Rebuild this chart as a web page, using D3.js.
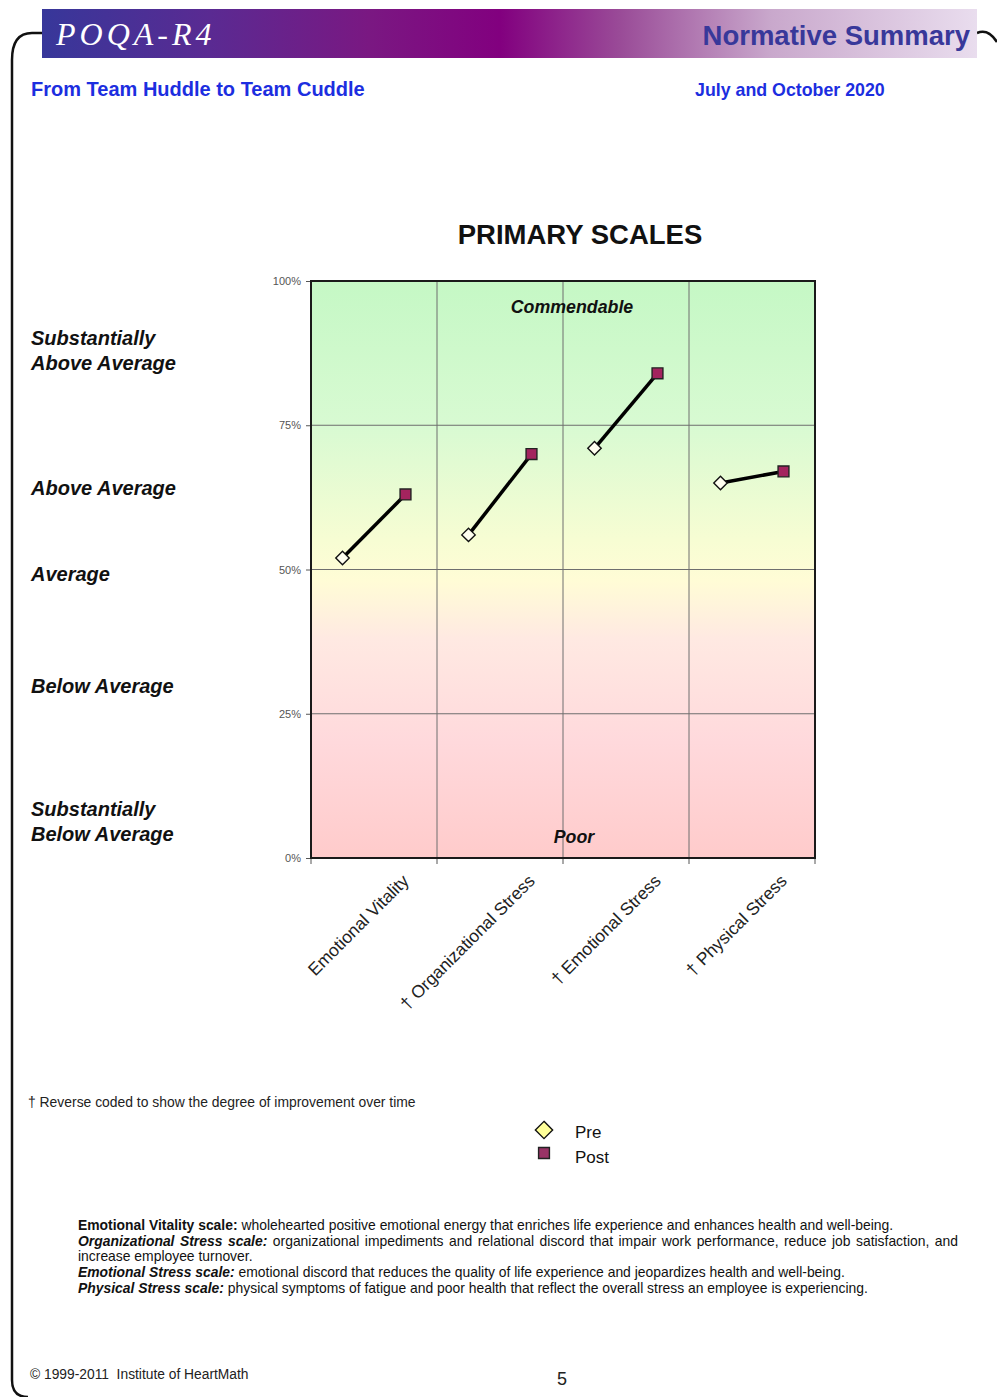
<!DOCTYPE html>
<html><head><meta charset="utf-8">
<script src="https://cdn.jsdelivr.net/npm/d3@7"></script>
<style>
html,body{margin:0;padding:0;background:#fff;}
svg{display:block;font-family:"Liberation Sans",Arial,sans-serif;}
</style></head>
<body>
<svg id="c" width="997" height="1397"></svg>
<script>
const categories = ["Emotional Vitality", "† Organizational Stress", "† Emotional Stress", "† Physical Stress"];
const preValues = [52, 56, 71, 65];
const postValues = [63, 70, 84, 67];
const yTicks = [0, 25, 50, 75, 100];
const levelLabels = [
  {lines: ["Substantially", "Above Average"], y: 345},
  {lines: ["Above Average"], y: 495},
  {lines: ["Average"], y: 581},
  {lines: ["Below Average"], y: 693},
  {lines: ["Substantially", "Below Average"], y: 816}
];
const seriesNames = ["Pre", "Post"];

const svg = d3.select("#c");
const defs = svg.append("defs");

// header gradient
const hg = defs.append("linearGradient").attr("id", "hg").attr("x1", "0").attr("x2", "1").attr("y1", "0").attr("y2", "0");
[[0, "#37379a"], [0.18, "#5a2a92"], [0.35, "#7a1882"], [0.49, "#82007f"], [0.62, "#9a4c98"], [0.78, "#c9a8cc"], [1, "#e9ddee"]]
  .forEach(([o, c]) => hg.append("stop").attr("offset", o).attr("stop-color", c));

// plot background gradient
const pg = defs.append("linearGradient").attr("id", "pg").attr("x1", "0").attr("x2", "0").attr("y1", "0").attr("y2", "1");
[[0, "#c5f8c5"], [0.25, "#d8fad2"], [0.45, "#f7fdd3"], [0.52, "#fffcd6"], [0.62, "#ffe9e2"], [0.8, "#ffd9dc"], [1, "#ffcbcb"]]
  .forEach(([o, c]) => pg.append("stop").attr("offset", o).attr("stop-color", c));

// page frame
svg.append("path")
  .attr("d", "M42,33 L32,33 Q12,33 12,60 L12,1380 Q12,1397 28,1397")
  .attr("fill", "none").attr("stroke", "#111").attr("stroke-width", 2.5);
svg.append("path")
  .attr("d", "M977,33 Q988,28 997,42")
  .attr("fill", "none").attr("stroke", "#111").attr("stroke-width", 2.5);

// header bar
svg.append("rect").attr("x", 42).attr("y", 9).attr("width", 935).attr("height", 49).attr("fill", "url(#hg)");
svg.append("text").attr("x", 56).attr("y", 45).attr("fill", "#fff")
  .style("font-family", "'Liberation Serif','DejaVu Serif',serif").style("font-style", "italic")
  .style("font-size", "32px").style("letter-spacing", "4px").text("POQA-R4");
svg.append("text").attr("x", 970).attr("y", 45).attr("text-anchor", "end").attr("fill", "#38389a")
  .style("font-weight", "bold").style("font-size", "27.5px").text("Normative Summary");

svg.append("text").attr("x", 31).attr("y", 96).attr("fill", "#1c2ee0")
  .style("font-weight", "bold").style("font-size", "20px").text("From Team Huddle to Team Cuddle");
svg.append("text").attr("x", 695).attr("y", 96).attr("fill", "#1c2ee0")
  .style("font-weight", "bold").style("font-size", "17.8px").text("July and October 2020");

// title
svg.append("text").attr("x", 580).attr("y", 244).attr("text-anchor", "middle").attr("fill", "#111")
  .style("font-weight", "bold").style("font-size", "27.5px").text("PRIMARY SCALES");

// level labels
levelLabels.forEach(l => {
  l.lines.forEach((t, i) => {
    svg.append("text").attr("x", 31).attr("y", l.y + i * 25).attr("fill", "#111")
      .style("font-weight", "bold").style("font-style", "italic").style("font-size", "20px").text(t);
  });
});

// plot
const L = 311, R = 815, T = 281, B = 858;
const x = d3.scaleBand().domain(categories).range([L, R]);
const y = d3.scaleLinear().domain([0, 100]).range([B, T]);

svg.append("rect").attr("x", L).attr("y", T).attr("width", R - L).attr("height", B - T).attr("fill", "url(#pg)");

// grid
const g = svg.append("g");
g.selectAll("line.h").data(yTicks.filter(v => v > 0 && v < 100)).join("line")
  .attr("x1", L).attr("x2", R).attr("y1", d => y(d)).attr("y2", d => y(d))
  .attr("stroke", "#6e6e6e").attr("stroke-width", 1);
g.selectAll("line.v").data(categories.slice(1)).join("line")
  .attr("x1", d => x(d)).attr("x2", d => x(d)).attr("y1", T).attr("y2", B)
  .attr("stroke", "#6e6e6e").attr("stroke-width", 1);

// zone labels
svg.append("text").attr("x", 572).attr("y", 313).attr("text-anchor", "middle").attr("fill", "#111")
  .style("font-weight", "bold").style("font-style", "italic").style("font-size", "17.8px").text("Commendable");
svg.append("text").attr("x", 574).attr("y", 843).attr("text-anchor", "middle").attr("fill", "#111")
  .style("font-weight", "bold").style("font-style", "italic").style("font-size", "17.8px").text("Poor");

// y axis
const yAxis = d3.axisLeft(y).tickValues(yTicks).tickSize(5).tickPadding(5).tickFormat(d => d + "%");
const ya = svg.append("g").attr("transform", `translate(${L},0)`).call(yAxis);
ya.select(".domain").remove();
ya.selectAll(".tick line").attr("stroke", "#555");
ya.selectAll(".tick text").attr("fill", "#555").style("font-size", "11px").style("font-family", "'Liberation Sans',Arial,sans-serif");

// x axis ticks at band boundaries
const bounds = categories.map(c => x(c)).concat([R]);
svg.append("g").selectAll("line").data(bounds).join("line")
  .attr("x1", d => d).attr("x2", d => d).attr("y1", B).attr("y2", B + 6)
  .attr("stroke", "#555").attr("stroke-width", 1);

// category labels
svg.append("g").selectAll("text").data(categories).join("text")
  .attr("transform", d => `translate(${x(d) + x.bandwidth() / 2 + 36},${B + 24}) rotate(-45)`)
  .attr("text-anchor", "end").attr("fill", "#222").style("font-size", "17.5px").text(d => d);

// frame
svg.append("rect").attr("x", L).attr("y", T).attr("width", R - L).attr("height", B - T)
  .attr("fill", "none").attr("stroke", "#1a1a1a").attr("stroke-width", 2);

// series
const xPre = c => x(c) + x.bandwidth() * 0.25;
const xPost = c => x(c) + x.bandwidth() * 0.75;
const data = categories.map((c, i) => ({c, pre: preValues[i], post: postValues[i]}));

svg.append("g").selectAll("line").data(data).join("line")
  .attr("x1", d => xPre(d.c)).attr("y1", d => y(d.pre))
  .attr("x2", d => xPost(d.c)).attr("y2", d => y(d.post))
  .attr("stroke", "#000").attr("stroke-width", 3.5);

const diamond = d3.symbol().type(d3.symbolDiamond2).size(115);
const square = d3.symbol().type(d3.symbolSquare2).size(150);
svg.append("g").selectAll("path").data(data).join("path")
  .attr("d", diamond).attr("transform", d => `translate(${xPre(d.c)},${y(d.pre)})`)
  .attr("fill", "#fffff0").attr("stroke", "#111").attr("stroke-width", 1.4);
svg.append("g").selectAll("path").data(data).join("path")
  .attr("d", square).attr("transform", d => `translate(${xPost(d.c)},${y(d.post)})`)
  .attr("fill", "#a3245e").attr("stroke", "#222").attr("stroke-width", 1.4);

// footnote
svg.append("text").attr("x", 28).attr("y", 1107).attr("fill", "#222").style("font-size", "13.9px")
  .text("† Reverse coded to show the degree of improvement over time");

// legend
const lg = svg.append("g");
lg.append("path").attr("d", d3.symbol().type(d3.symbolDiamond2).size(190)).attr("transform", "translate(544,1130)")
  .attr("fill", "#ffff99").attr("stroke", "#111").attr("stroke-width", 1.4);
lg.append("path").attr("d", d3.symbol().type(d3.symbolSquare2).size(150)).attr("transform", "translate(544,1153)")
  .attr("fill", "#993366").attr("stroke", "#222").attr("stroke-width", 1.4);
lg.selectAll("text").data(seriesNames).join("text")
  .attr("x", 575).attr("y", (d, i) => 1138 + i * 25).attr("fill", "#111").style("font-size", "17px").text(d => d);

// definitions
const defsLines = [
  [{b: "Emotional Vitality scale:", i: false}, " wholehearted positive emotional energy that enriches life experience and enhances health and well-being."],
  [{b: "Organizational Stress scale:", i: true}, " organizational impediments and relational discord that impair work performance, reduce job satisfaction, and"],
  [null, "increase employee turnover."],
  [{b: "Emotional Stress scale:", i: true}, " emotional discord that reduces the quality of life experience and jeopardizes health and well-being."],
  [{b: "Physical Stress scale:", i: true}, " physical symptoms of fatigue and poor health that reflect the overall stress an employee is experiencing."]
];
const defY = [1230, 1246, 1261, 1277, 1293];
defsLines.forEach((ln, k) => {
  const t = svg.append("text").attr("x", 78).attr("y", defY[k]).attr("fill", "#111").style("font-size", "13.9px");
  if (ln[0]) t.append("tspan").style("font-weight", "bold").style("font-style", ln[0].i ? "italic" : "normal").text(ln[0].b);
  t.append("tspan").text(ln[1]);
  if (k === 1) {
    const w = t.node().getComputedTextLength();
    const full = (ln[0] ? ln[0].b : "") + ln[1];
    const spaces = (full.match(/ /g) || []).length;
    if (w < 880 && spaces) t.style("word-spacing", ((880 - w) / spaces) + "px");
  }
});

// footer
svg.append("text").attr("x", 30).attr("y", 1379).attr("fill", "#222").style("font-size", "13.8px")
  .style("white-space", "pre").text("© 1999-2011  Institute of HeartMath");
svg.append("text").attr("x", 562).attr("y", 1385).attr("text-anchor", "middle").attr("fill", "#222")
  .style("font-size", "18px").text("5");
</script>
</body></html>
